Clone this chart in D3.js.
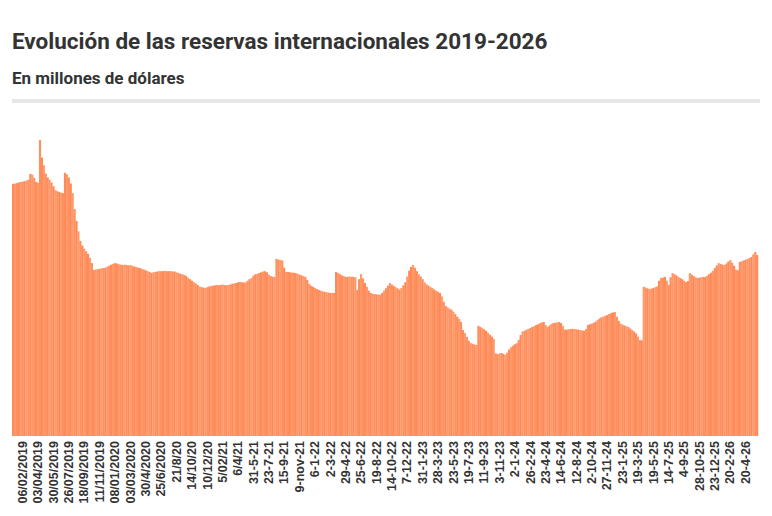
<!DOCTYPE html>
<html>
<head>
<meta charset="utf-8">
<script src="https://cdn.jsdelivr.net/npm/d3@7"></script>
<style>
  html, body { margin: 0; padding: 0; background: #fff; }
  svg { display: block; }
</style>
</head>
<body>
<svg id="chart" width="772" height="516"></svg>
<script>
// Reserves, millions of USD (one bar per week)
const reserves = [
65900,66000,66100,66300,66400,66500,66600,66800,67000,68500,
68300,67500,66400,66200,77400,72800,70800,68600,67600,67000,
66300,65300,64300,64000,63800,63600,63500,68800,68400,67600,
66000,63500,59300,56200,53500,51000,49800,49000,48300,47600,
46600,45200,43400,43500,43600,43700,43800,43900,44000,44300,
44500,44800,45000,45200,45100,44900,44800,44700,44800,44700,
44600,44700,44500,44300,44200,44000,43900,43700,43500,43300,
43100,42900,42600,42800,42900,43000,43100,43100,43100,43200,
43100,43100,43100,43000,43000,42800,42600,42400,42300,42100,
41800,41400,41000,40600,40200,39900,39500,39100,38900,38800,
38700,38900,39100,39200,39300,39400,39500,39400,39500,39600,
39500,39400,39500,39600,39800,39900,40000,40200,40300,40200,
40100,40200,40600,41000,41300,41900,42300,42400,42600,42800,
43000,43100,42800,42200,41800,41600,41600,46300,46100,46000,
45900,44000,42900,42900,42800,42700,42700,42600,42400,42200,
42000,41800,41600,40800,39800,39300,39000,38700,38400,38200,
38000,37800,37700,37600,37500,37400,37400,37400,42900,42600,
42300,42000,41800,41600,41600,41700,41600,41600,41500,38200,
41000,42300,41200,40000,39000,38000,37400,37200,37100,37000,
37000,36900,37400,38000,38600,39300,40000,39600,39200,38900,
38600,38300,38700,39400,40200,41700,43200,44200,44700,44000,
43100,42300,41700,41000,40200,39700,39300,39000,38700,38300,
38000,37700,37400,36500,35100,34000,33600,33300,33000,32500,
31900,31200,30600,29800,27700,26900,25900,24900,24300,24100,
23900,23800,28800,28500,28200,27900,27500,27000,26500,26000,
25400,21600,21400,21600,21700,21500,21200,21800,22600,23200,
23600,24000,24300,25100,26400,27300,27500,27800,28000,28200,
28500,28700,29000,29200,29500,29700,29800,29000,28500,28900,
29300,29500,29600,29700,29800,29500,28700,27800,27800,27900,
28000,28000,28000,27900,27800,27700,27600,27500,28000,29000,
29200,29400,29600,29900,30300,30700,31000,31200,31400,31600,
31900,32100,32300,32400,31200,30100,29400,29100,28900,28700,
28500,28100,27700,27300,26800,26000,25100,25000,39000,38800,
38600,38400,38500,38700,38900,39100,40600,41300,41400,41600,
40600,39500,41500,42600,42300,42000,41600,41300,41000,40600,
40200,40500,42600,42200,41800,41500,41300,41400,41500,41600,
41600,41900,42300,42700,43200,43900,44600,45200,45000,44800,
44700,45100,45600,46000,45300,44500,43500,43300,45500,45700,
45900,46100,46300,46500,46800,47500,48100,47300
];

// Tick labels, shown every 8th bar starting at bar 5
const tickLabels = [
"06/02/2019","03/04/2019","30/05/2019","26/07/2019","18/09/2019","11/11/2019",
"08/01/2020","03/03/2020","30/4/2020","25/6/2020","21/8/20","14/10/20",
"10/12/20","5/02/21","6/4/21","31-5-21","23-7-21","15-9-21","9-nov-21",
"6-1-22","2-3-22","29-4-22","25-6-22","19-8-22","14-10-22","7-12-22",
"31-1-23","28-3-23","23-5-23","19-7-23","11-9-23","3-11-23","2-1-24",
"26-2-24","23-4-24","14-6-24","12-8-24","2-10-24","27-11-24","23-1-25",
"19-3-25","19-5-25","14-7-25","4-9-25","28-10-25","23-12-25","20-2-26","20-4-26"
];
const tickStart = 5, tickEvery = 8;

const title = "Evolución de las reservas internacionales 2019-2026";
const subtitle = "En millones de dólares";

const svg = d3.select("#chart");

svg.append("text")
  .attr("x", 12).attr("y", 49)
  .attr("font-family", "Roboto, 'Noto Sans', sans-serif")
  .attr("font-weight", 700)
  .attr("font-size", 22.5)
  .attr("fill", "#333")
  .text(title);

svg.append("text")
  .attr("x", 12).attr("y", 84)
  .attr("font-family", "Roboto, 'Noto Sans', sans-serif")
  .attr("font-weight", 700)
  .attr("font-size", 17)
  .attr("fill", "#333")
  .text(subtitle);

svg.append("rect")
  .attr("x", 12).attr("y", 99)
  .attr("width", 748).attr("height", 4)
  .attr("fill", "#e6e6e6");

const idx = reserves.map((d, i) => i);
const x = d3.scaleBand().domain(idx).range([12, 758]).padding(0);
const y = d3.scaleLinear().domain([0, 80000]).range([436, 130]);

svg.append("g")
  .selectAll("rect")
  .data(reserves)
  .join("rect")
  .attr("x", (d, i) => x(i))
  .attr("width", x.bandwidth() + 0.25)
  .attr("y", d => y(d))
  .attr("height", d => y(0) - y(d))
  .attr("fill", (d, i) => i % 3 === 0 ? "#ff8a57" : (i % 3 === 1 ? "#ff9a6c" : "#ff905f"));

const tickIdx = tickLabels.map((t, k) => tickStart + k * tickEvery);
const axis = d3.axisBottom(x)
  .tickValues(tickIdx)
  .tickSize(0)
  .tickFormat((d) => tickLabels[(d - tickStart) / tickEvery]);

const gx = svg.append("g")
  .attr("transform", "translate(0,436)")
  .call(axis);
gx.select(".domain").remove();
gx.selectAll("text")
  .attr("transform", "rotate(-90)")
  .attr("text-anchor", "end")
  .attr("x", -5)
  .attr("y", 0)
  .attr("dy", "0.35em")
  .attr("font-family", "'Liberation Sans', Arial, sans-serif")
  .attr("font-weight", 700)
  .attr("font-size", 12.5)
  .attr("fill", "#333");
</script>
</body>
</html>
